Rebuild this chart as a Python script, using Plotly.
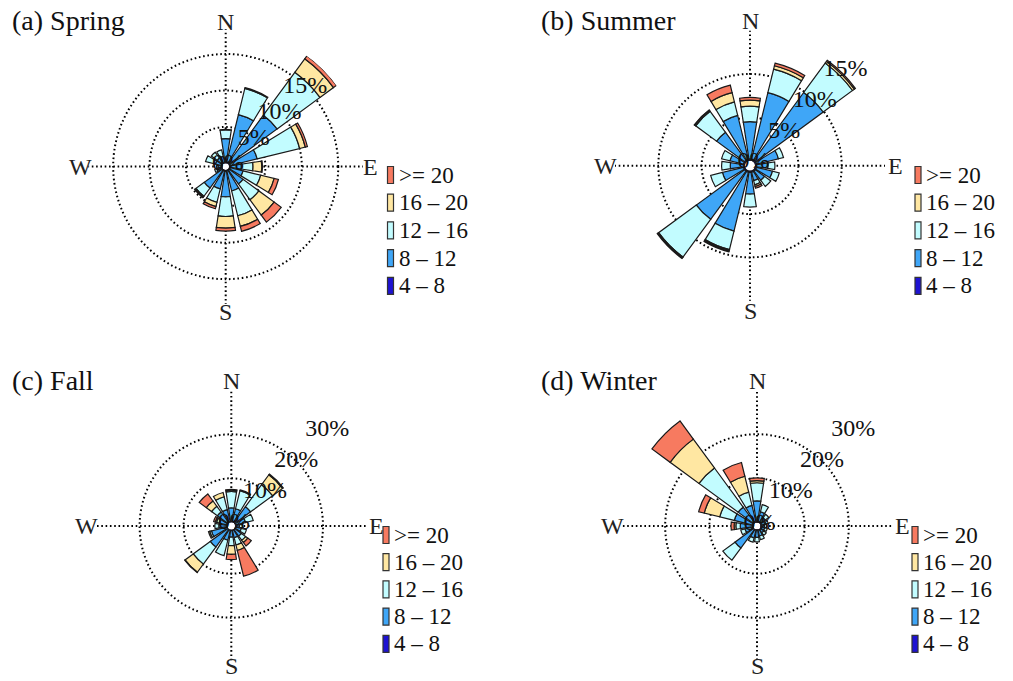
import math
import plotly.graph_objects as go

W, H = 1013, 681

directions = ["N", "NNE", "NE", "ENE", "E", "ESE", "SE", "SSE",
              "S", "SSW", "SW", "WSW", "W", "WNW", "NW", "NNW"]
compass_labels = ["N", "E", "S", "W"]
compass_angles = [0, 90, 180, 270]
speed_bins = ["4 – 8", "8 – 12", "12 – 16", "16 – 20", ">= 20"]
bin_colors = ["#1E12D2", "#3FA6F7", "#C2FCFF", "#FFE7A2", "#F77A60"]

# frequency (%) of each speed bin per direction
spring_4_8   = [0.2, 0.2, 0.2, 0.2, 0.2, 0.2, 0.2, 0.2, 0.2, 0.2, 0.2, 0.1, 0.1, 0.1, 0.1, 0.1]
spring_8_12  = [3.2, 6.7, 8.1, 3.8, 1.5, 1.8, 2.3, 2.8, 3.5, 2.5, 3.0, 0.7, 0.5, 0.9, 0.9, 0.9]
spring_12_16 = [1.2, 3.7, 7.3, 6.0, 1.6, 2.5, 2.7, 3.5, 2.7, 1.9, 1.4, 0.3, 0.2, 1.4, 1.0, 0.9]
spring_16_20 = [0.05, 0.1, 2.3, 0.8, 1.2, 1.9, 2.6, 1.5, 1.6, 0.6, 0.15, 0.0, 0.0, 0.0, 0.0, 0.0]
spring_20    = [0.0, 0.0, 0.5, 0.3, 0.1, 0.6, 1.2, 0.7, 0.4, 0.3, 0.1, 0.0, 0.0, 0.0, 0.0, 0.0]

summer_4_8   = [0.2, 0.2, 0.2, 0.2, 0.2, 0.2, 0.2, 0.2, 0.2, 0.2, 0.2, 0.2, 0.2, 0.2, 0.2, 0.2]
summer_8_12  = [4.3, 7.9, 9.7, 2.6, 1.3, 1.9, 1.3, 1.0, 2.5, 7.0, 6.9, 2.5, 1.5, 1.6, 4.0, 5.2]
summer_12_16 = [1.8, 2.8, 4.2, 0.6, 0.8, 0.8, 0.9, 0.5, 1.5, 2.2, 5.4, 1.4, 1.0, 1.0, 3.0, 1.6]
summer_16_20 = [0.7, 0.4, 0.25, 0.0, 0.0, 0.0, 0.0, 0.2, 0.0, 0.15, 0.1, 0.0, 0.0, 0.0, 0.15, 1.1]
summer_20    = [0.3, 0.3, 0.15, 0.0, 0.0, 0.0, 0.0, 0.2, 0.0, 0.1, 0.1, 0.0, 0.0, 0.0, 0.05, 0.9]

fall_4_8   = [0.2, 0.2, 0.2, 0.2, 0.2, 0.2, 0.2, 0.2, 0.2, 0.2, 0.2, 0.2, 0.2, 0.2, 0.2, 0.2]
fall_8_12  = [3.1, 3.0, 4.4, 2.3, 0.8, 1.3, 1.8, 1.7, 1.5, 2.3, 4.9, 3.6, 1.8, 1.8, 2.9, 2.8]
fall_12_16 = [3.7, 4.2, 6.2, 1.8, 0.7, 1.2, 1.2, 1.7, 1.9, 3.6, 4.8, 0.4, 0.9, 0.6, 1.6, 3.0]
fall_16_20 = [0.3, 0.2, 2.8, 0.0, 0.0, 0.0, 0.6, 1.3, 2.0, 0.0, 2.3, 0.3, 0.0, 0.3, 1.5, 1.0]
fall_20    = [0.2, 0.0, 0.2, 0.0, 0.0, 0.0, 1.0, 6.0, 1.2, 0.0, 0.1, 0.0, 0.0, 0.4, 2.0, 0.0]

winter_4_8   = [0.2, 0.2, 0.2, 0.2, 0.2, 0.2, 0.2, 0.2, 0.2, 0.2, 0.2, 0.2, 0.2, 0.2, 0.2, 0.2]
winter_8_12  = [4.7, 2.3, 1.3, 1.0, 0.7, 0.8, 0.9, 1.3, 1.6, 1.8, 5.2, 1.8, 2.8, 4.3, 4.3, 3.8]
winter_12_16 = [4.1, 1.7, 1.0, 0.6, 0.5, 0.6, 0.7, 0.9, 1.0, 1.0, 3.4, 1.0, 1.0, 3.4, 11.0, 3.1]
winter_16_20 = [0.5, 0.0, 0.0, 0.0, 0.0, 0.0, 0.0, 0.0, 0.0, 0.0, 0.0, 0.0, 0.4, 3.6, 8.1, 3.7]
winter_20    = [0.6, 0.0, 0.0, 0.0, 0.0, 0.0, 0.0, 0.0, 0.0, 0.0, 0.0, 0.0, 0.7, 1.3, 5.1, 3.2]

season_titles = ["(a) Spring", "(b) Summer", "(c) Fall", "(d) Winter"]
season_data = [
    [spring_4_8, spring_8_12, spring_12_16, spring_16_20, spring_20],
    [summer_4_8, summer_8_12, summer_12_16, summer_16_20, summer_20],
    [fall_4_8, fall_8_12, fall_12_16, fall_16_20, fall_20],
    [winter_4_8, winter_8_12, winter_12_16, winter_16_20, winter_20],
]
ring_ticks = [[5, 10, 15], [5, 10, 15], [10, 20, 30], [10, 20, 30]]
radial_max = [18.4, 15, 30, 30]

# ---- layout geometry (pixels) ----
panel_center = [(225.7, 166.6), (750.0, 165.7), (231.3, 526.0), (757.0, 526.0)]
panel_radius = [137.3, 135.0, 135.7, 136.0]
panel_hole_px = [3.3, 5.0, 3.7, 3.5]
compass_offset_px = 145.0
label_half_height = 14.0
title_pos = [(10, 20), (539, 20), (10, 380), (539, 380)]
legend_pos = [(387.5, 175.0, 27.7), (915.0, 175.0, 27.7),
              (383.0, 535.0, 27.2), (912.0, 535.0, 27.2)]

SERIF = "Liberation Serif, Times New Roman, serif"
theta = [i * 360 / len(directions) for i in range(len(directions))]
bar_width = 17.5
dots = "1.6px,2.7px"

fig = go.Figure()
layout_polars = {}
annotations = []
shapes = []

for p in range(4):
    pname = "polar" if p == 0 else f"polar{p + 1}"
    sub = pname
    cx, cy = panel_center[p]
    R = panel_radius[p]
    hole_px = panel_hole_px[p]
    rmax = radial_max[p]

    for b, vals in enumerate(season_data[p]):
        fig.add_trace(go.Barpolar(
            r=vals, theta=theta, width=bar_width, name=speed_bins[b],
            marker=dict(color=bin_colors[b], line=dict(color="#1a1a1a", width=1.2)),
            subplot=sub, showlegend=False, hoverinfo="skip"))

    ticks = ring_ticks[p]
    fig.add_trace(go.Scatterpolar(
        r=[0] + ticks, theta=[45] * (len(ticks) + 1), mode="text",
        text=[f"{t}%" for t in [0] + ticks],
        textfont=dict(family=SERIF, size=24, color="#111"),
        subplot=sub, showlegend=False, hoverinfo="skip", cliponaxis=False))

    layout_polars[pname] = dict(
        domain=dict(x=[(cx - R) / W, (cx + R) / W], y=[1 - (cy + R) / H, 1 - (cy - R) / H]),
        hole=hole_px / R,
        bgcolor="white",
        barmode="stack",
        radialaxis=dict(range=[0, rmax], tickvals=ticks, showticklabels=False,
                        ticks="", showline=False, gridcolor="#000", gridwidth=1.6,
                        griddash=dots),
        angularaxis=dict(rotation=90, direction="clockwise", thetaunit="degrees",
                         tickvals=compass_angles, showticklabels=False,
                         showline=False, ticks="", gridcolor="#000", gridwidth=1.6,
                         griddash=dots),
    )

    # compass letters just outside the outer edge of each rose (kept inside the page)
    for lab, ang in zip(compass_labels, compass_angles):
        a = math.radians(ang)
        px = cx + compass_offset_px * math.sin(a)
        py = min(cy - compass_offset_px * math.cos(a), H - label_half_height - 1)
        annotations.append(dict(text=lab, x=px / W, y=1 - py / H, xref="paper", yref="paper",
                                xanchor="center", yanchor="middle", showarrow=False,
                                font=dict(family=SERIF, size=24, color="#222")))

    tx, ty = title_pos[p]
    annotations.append(dict(text=season_titles[p], x=tx / W, y=1 - ty / H, xref="paper",
                            yref="paper", xanchor="left", yanchor="middle", showarrow=False,
                            font=dict(family=SERIF, size=28, color="#111")))

    lx, ly, gap = legend_pos[p]
    for row, b in enumerate(reversed(range(len(speed_bins)))):
        yc = ly + row * gap
        shapes.append(dict(type="rect", xref="paper", yref="paper",
                           x0=lx / W, x1=(lx + 6) / W,
                           y0=1 - (yc + 8.5) / H, y1=1 - (yc - 8.5) / H,
                           fillcolor=bin_colors[b], line=dict(color="#333", width=1.2)))
        annotations.append(dict(text=speed_bins[b], x=(lx + 9) / W, y=1 - yc / H,
                                xref="paper", yref="paper", xanchor="left", yanchor="middle",
                                showarrow=False,
                                font=dict(family=SERIF, size=23, color="#111")))

fig.update_layout(
    width=W, height=H, margin=dict(l=0, r=0, t=0, b=0),
    paper_bgcolor="white", plot_bgcolor="white",
    annotations=annotations, shapes=shapes, showlegend=False,
    **layout_polars,
)

fig.write_html("out.html")
